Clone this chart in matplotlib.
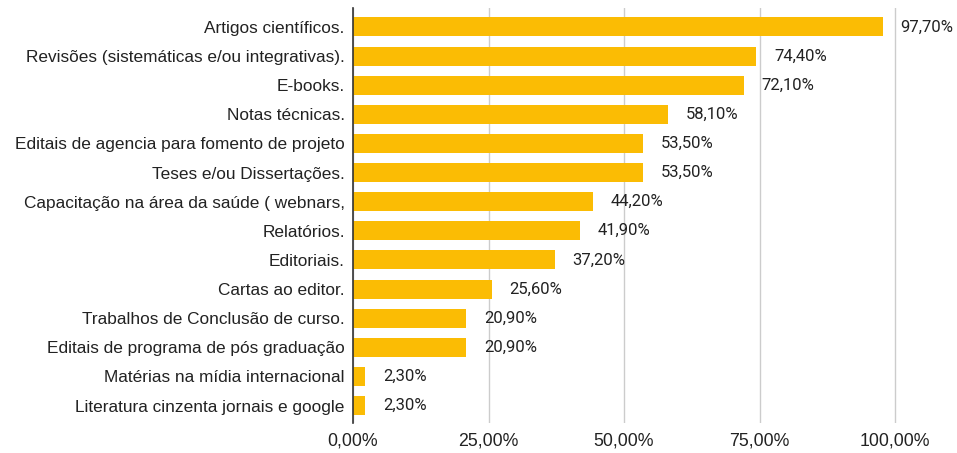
import matplotlib.pyplot as plt
from matplotlib.ticker import FuncFormatter

plt.rcParams['font.family'] = ['Liberation Sans', 'DejaVu Sans']

categories = [
    "Artigos científicos.",
    "Revisões (sistemáticas e/ou integrativas).",
    "E-books.",
    "Notas técnicas.",
    "Editais de agencia para fomento de projeto",
    "Teses e/ou Dissertações.",
    "Capacitação na área da saúde ( webnars,",
    "Relatórios.",
    "Editoriais.",
    "Cartas ao editor.",
    "Trabalhos de Conclusão de curso.",
    "Editais de programa de pós graduação",
    "Matérias na mídia internacional",
    "Literatura cinzenta jornais e google",
]
values = [97.7, 74.4, 72.1, 58.1, 53.5, 53.5, 44.2, 41.9, 37.2, 25.6, 20.9, 20.9, 2.3, 2.3]
ticks = [0, 25, 50, 75, 100]


def pt(v):
    return f"{v:.2f}".replace(".", ",") + "%"


fig = plt.figure(figsize=(9.57, 4.53), dpi=100)
# plot area: x=0 at 353px, 25% every ~135.5px
ax = fig.add_axes([353 / 957, 30 / 453, (955 - 353) / 957, (445 - 30) / 453])

y = list(range(len(categories)))
ax.barh(y, values, height=0.65, color="#fbbc04", zorder=3)
for yi, v in zip(y, values):
    ax.text(v + 3.3, yi, pt(v), va="center", ha="left", fontsize=12,
            family=["Roboto", "DejaVu Sans"], color="#222222")

ax.set_yticks(y)
ax.set_yticklabels(categories, fontsize=12.4, color="#222222")
ax.set_ylim(13.6, -0.65)
ax.set_xlim(0, (955 - 353) / 135.5 * 25)
ax.set_xticks(ticks)
ax.xaxis.set_major_formatter(FuncFormatter(lambda v, p: pt(v)))
ax.tick_params(axis="x", labelsize=12.8, colors="#222222", length=0, pad=7)
ax.tick_params(axis="y", length=0, pad=6)
ax.grid(axis="x", color="#cccccc", linewidth=1, zorder=0)
for s in ["top", "right", "bottom"]:
    ax.spines[s].set_visible(False)
ax.spines["left"].set_color("#333333")
ax.spines["left"].set_linewidth(1.2)
ax.spines["left"].set_zorder(4)

fig.savefig("out.png", dpi=100)
